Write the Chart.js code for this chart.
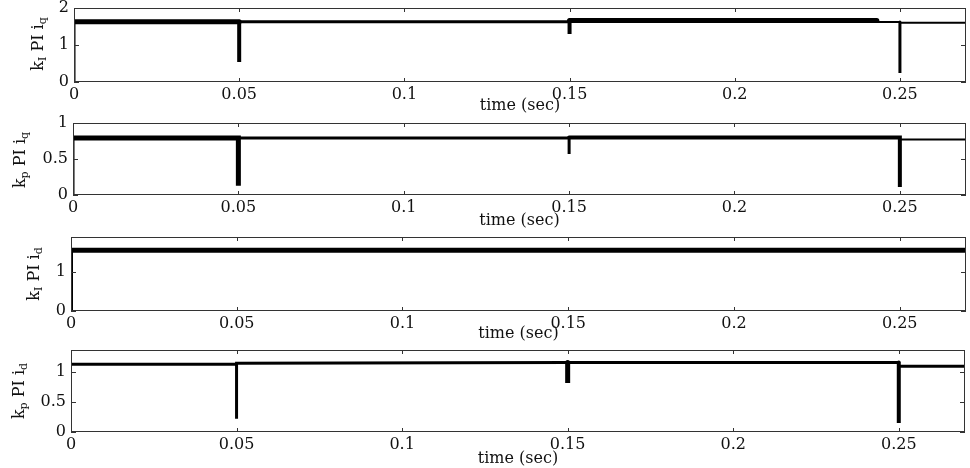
<!DOCTYPE html>
<html>
<head>
<meta charset="utf-8">
<script src="https://cdn.jsdelivr.net/npm/chart.js@4/dist/chart.umd.min.js"></script>
<style>
  html, body { margin: 0; padding: 0; background: #fff; }
  #wrap { position: relative; width: 970px; height: 468px; overflow: hidden; }
  .panel { position: absolute; left: 0; width: 970px; }
  .ylab {
    position: absolute; white-space: nowrap;
    font-family: "DejaVu Serif", "Liberation Serif", serif; font-size: 16px; color: #111;
    transform: translate(-50%, -50%) rotate(-90deg);
  }
  .ylab sub { font-size: 11px; vertical-align: -3px; }
</style>
</head>
<body>
<div id="wrap">
  <div class="panel" style="top:0;height:117px"><canvas id="c1"></canvas></div>
  <div class="panel" style="top:115px;height:115px"><canvas id="c2"></canvas></div>
  <div class="panel" style="top:229px;height:116px"><canvas id="c3"></canvas></div>
  <div class="panel" style="top:342px;height:126px"><canvas id="c4"></canvas></div>
  <div class="ylab" style="left:38px;top:44px">k<sub>I</sub> PI i<sub>q</sub></div>
  <div class="ylab" style="left:20px;top:160px">k<sub>p</sub> PI i<sub>q</sub></div>
  <div class="ylab" style="left:34px;top:274px">k<sub>I</sub> PI i<sub>d</sub></div>
  <div class="ylab" style="left:19px;top:391px">k<sub>p</sub> PI i<sub>d</sub></div>
</div>
<script>
// x axis (shared)
const xTicks = [0, 0.05, 0.1, 0.15, 0.2, 0.25];
const xMax = 0.27;

// panel 1: kI PI iq
const t1 = [0, 0, 0.05, 0.05, 0.05, 0.15, 0.15, 0.15, 0.243, 0.243, 0.25, 0.25, 0.25, 0.27];
const v1 = [0, 1.63, 1.63, 0.54, 1.63, 1.63, 1.3, 1.66, 1.66, 1.62, 1.62, 0.24, 1.6, 1.6];
const w1 = [3, 5, 4, 4, 3, 4, 4, 5, 2, 2, 3, 3, 2];
const yTicks1 = [0, 1, 2];

// panel 2: kp PI iq
const t2 = [0, 0, 0.05, 0.05, 0.05, 0.15, 0.15, 0.15, 0.25, 0.25, 0.25, 0.27];
const v2 = [0, 0.79, 0.79, 0.13, 0.79, 0.79, 0.57, 0.8, 0.8, 0.11, 0.77, 0.77];
const w2 = [3, 5, 5, 5, 3, 3, 3, 4, 4, 4, 2];
const yTicks2 = [0, 0.5, 1];

// panel 3: kI PI id
const t3 = [0, 0, 0.27];
const v3 = [0, 1.56, 1.56];
const w3 = [4, 5];
const yTicks3 = [0, 1];

// panel 4: kp PI id
const t4 = [0, 0.05, 0.05, 0.05, 0.15, 0.15, 0.15, 0.25, 0.25, 0.25, 0.27];
const v4 = [1.13, 1.13, 0.22, 1.15, 1.16, 0.82, 1.16, 1.16, 0.15, 1.1, 1.1];
const w4 = [3, 3, 3, 3, 5, 5, 3, 4, 4, 3];
const yTicks4 = [0, 0.5, 1];

const serif = '"DejaVu Serif", "Liberation Serif", serif';

// MATLAB-like frame: box plus small inward ticks on all four sides
const framePlugin = {
  id: 'frame',
  afterDraw(chart) {
    const {ctx, chartArea: a, scales: {x, y}} = chart;
    ctx.save();
    ctx.strokeStyle = '#333';
    ctx.lineWidth = 1;
    ctx.strokeRect(a.left + 0.5, a.top + 0.5, a.right - a.left - 1, a.bottom - a.top - 1);
    ctx.beginPath();
    xTicks.forEach(v => {
      const px = Math.round(x.getPixelForValue(v)) + 0.5;
      ctx.moveTo(px, a.top); ctx.lineTo(px, a.top + 4);
      ctx.moveTo(px, a.bottom); ctx.lineTo(px, a.bottom - 4);
    });
    y.ticks.forEach(t => {
      const py = Math.round(y.getPixelForValue(t.value)) + 0.5;
      ctx.moveTo(a.left, py); ctx.lineTo(a.left + 5, py);
      ctx.moveTo(a.right, py); ctx.lineTo(a.right - 5, py);
    });
    ctx.stroke();
    ctx.restore();
  }
};

function makePanel(id, t, v, w, yTicks, yMax, opt) {
  const points = t.map((tt, i) => ({x: tt, y: v[i]}));
  new Chart(document.getElementById(id), {
    type: 'line',
    data: {
      datasets: [{
        data: points,
        borderColor: '#000',
        borderWidth: 3,
        borderCapStyle: 'round',
        pointRadius: 0,
        tension: 0,
        segment: {
          borderWidth: ctx => w[ctx.p0DataIndex]
        }
      }]
    },
    options: {
      responsive: true,
      maintainAspectRatio: false,
      animation: false,
      layout: {padding: {top: 8, right: opt.right, left: 0, bottom: 0}},
      plugins: {legend: {display: false}, tooltip: {enabled: false}},
      scales: {
        x: {
          type: 'linear',
          min: 0,
          max: xMax,
          grid: {display: false, drawTicks: false},
          border: {display: false},
          afterBuildTicks: s => { s.ticks = xTicks.map(value => ({value})); },
          afterFit: s => { s.height = opt.xh; },
          ticks: {
            padding: 3,
            color: '#111',
            font: {family: serif, size: 16},
            callback: val => String(val)
          },
          title: {
            display: true,
            text: 'time (sec)',
            color: '#111',
            font: {family: serif, size: 16},
            padding: {top: 0, bottom: opt.tb}
          }
        },
        y: {
          min: 0,
          max: yMax,
          grid: {display: false, drawTicks: false},
          border: {display: false},
          afterBuildTicks: s => { s.ticks = yTicks.map(value => ({value})); },
          afterFit: s => {
            s.width = opt.left;
            s.paddingTop = 0;
            s.paddingBottom = 0;
          },
          ticks: {
            padding: 5,
            color: '#111',
            font: {family: serif, size: 16},
            callback: val => String(val)
          }
        }
      }
    },
    plugins: [framePlugin]
  });
}

makePanel('c1', t1, v1, w1, yTicks1, 2, {left: 74, right: 4, xh: 35, tb: 2});
makePanel('c2', t2, v2, w2, yTicks2, 1, {left: 73, right: 4, xh: 35, tb: 0});
makePanel('c3', t3, v3, w3, yTicks3, 1.9, {left: 71, right: 4, xh: 34, tb: 2});
makePanel('c4', t4, v4, w4, yTicks4, 1.37, {left: 71, right: 5, xh: 36, tb: 0});
</script>
</body>
</html>
